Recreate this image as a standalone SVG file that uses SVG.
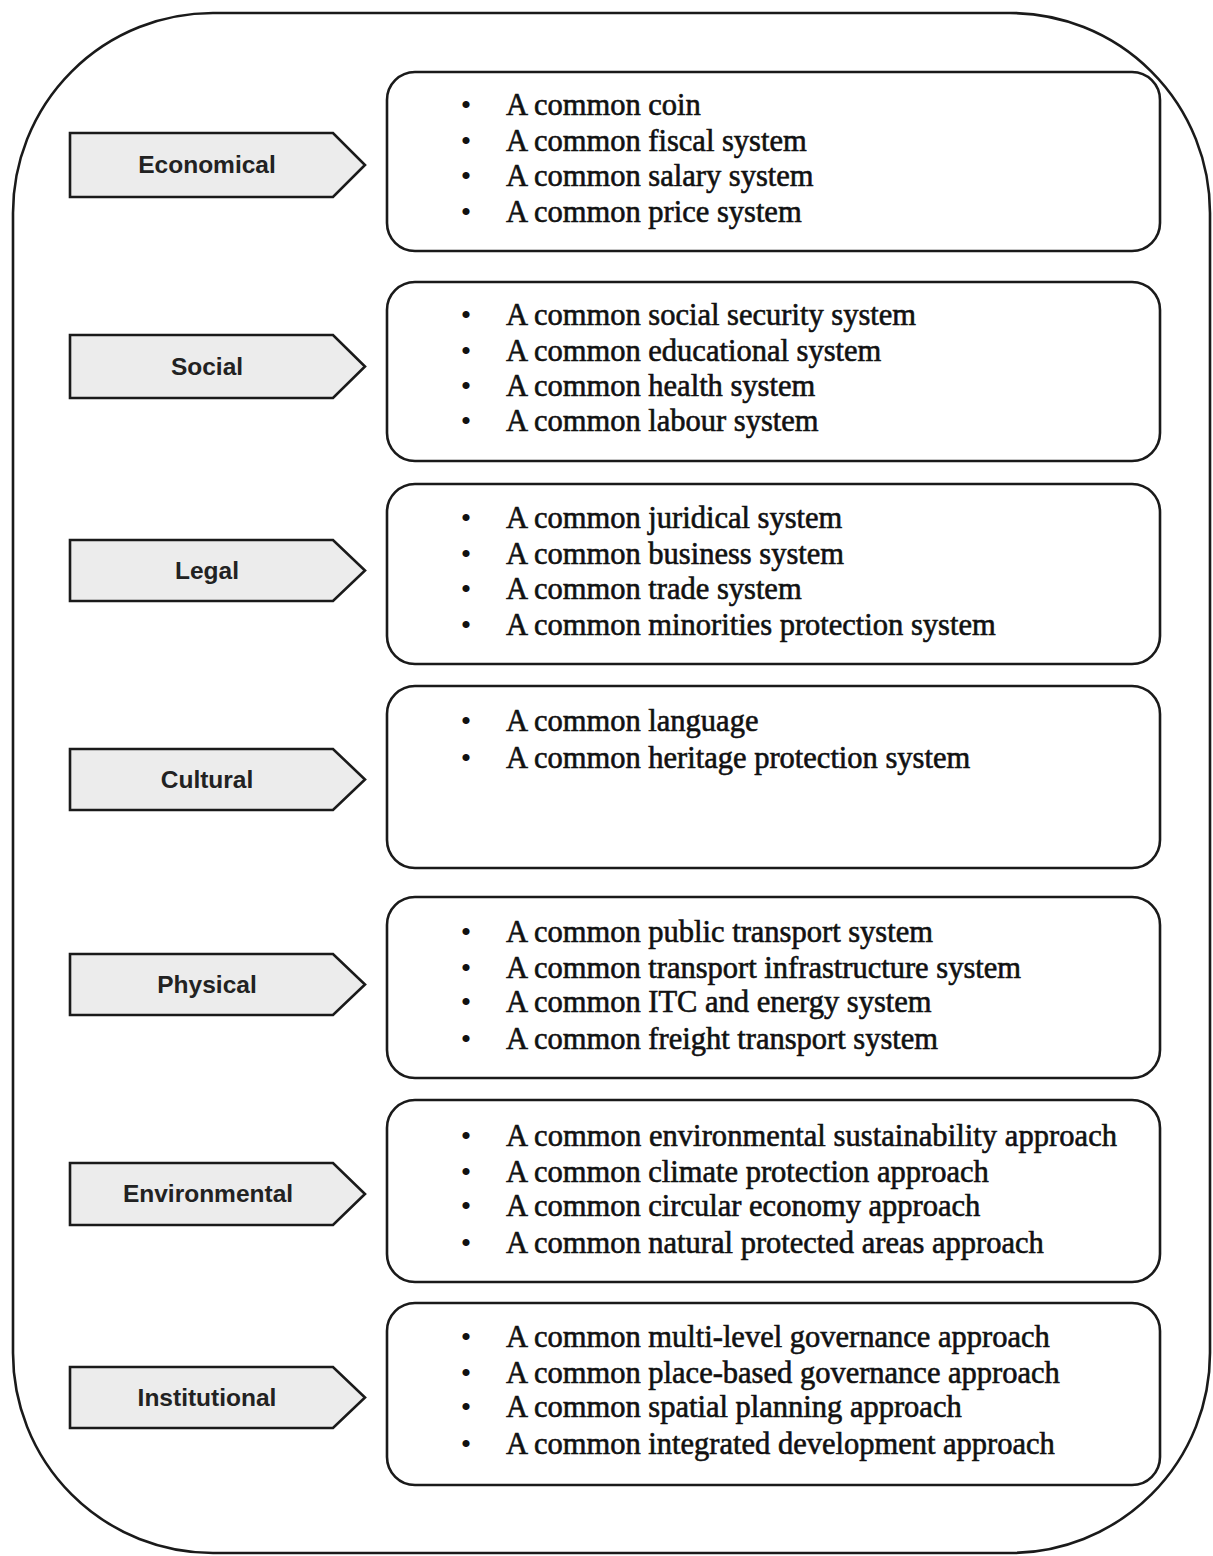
<svg xmlns="http://www.w3.org/2000/svg" width="1213" height="1556" viewBox="0 0 1213 1556">
<style>
.outer{fill:#ffffff;stroke:#1a1a1a;stroke-width:2.6}
.arrow{fill:#ececec;stroke:#1a1a1a;stroke-width:2.6;stroke-linejoin:miter}
.lbl{font-family:"Liberation Sans",Arial,sans-serif;font-weight:bold;font-size:24.5px;fill:#222;text-anchor:middle}
.box{fill:#ffffff;stroke:#1a1a1a;stroke-width:2.6}
.item{font-family:"Liberation Serif","Times New Roman",serif;font-size:30.5px;fill:#111;stroke:#111;stroke-width:0.6}
.bul{font-family:"Liberation Serif","Times New Roman",serif;font-size:30px;fill:#111;text-anchor:middle}
</style>
<rect width="1213" height="1556" fill="#ffffff"/>
<rect class="outer" x="13" y="13" width="1197" height="1540" rx="200" ry="200"/>
<g id="connectors"></g>

<g id="economical">
<path class="arrow" d="M70,133 H333 L365,165 L333,197 H70 Z"/>
<text class="lbl" x="207" y="173">Economical</text>
<rect class="box" x="387" y="72" width="773" height="179" rx="28"/>
<text class="bul" x="466" y="115">•</text><text class="item" x="506" y="115">A common coin</text>
<text class="bul" x="466" y="151">•</text><text class="item" x="506" y="151">A common fiscal system</text>
<text class="bul" x="466" y="186">•</text><text class="item" x="506" y="186">A common salary system</text>
<text class="bul" x="466" y="222">•</text><text class="item" x="506" y="222">A common price system</text>
</g>

<g id="social">
<path class="arrow" d="M70,335 H333 L365,366.5 L333,398 H70 Z"/>
<text class="lbl" x="207" y="375">Social</text>
<rect class="box" x="387" y="282" width="773" height="179" rx="28"/>
<text class="bul" x="466" y="325">•</text><text class="item" x="506" y="325">A common social security system</text>
<text class="bul" x="466" y="361">•</text><text class="item" x="506" y="361">A common educational system</text>
<text class="bul" x="466" y="396">•</text><text class="item" x="506" y="396">A common health system</text>
<text class="bul" x="466" y="431">•</text><text class="item" x="506" y="431">A common labour system</text>
</g>

<g id="legal">
<path class="arrow" d="M70,540 H333 L365,570.5 L333,601 H70 Z"/>
<text class="lbl" x="207" y="579">Legal</text>
<rect class="box" x="387" y="484" width="773" height="180" rx="28"/>
<text class="bul" x="466" y="528">•</text><text class="item" x="506" y="528">A common juridical system</text>
<text class="bul" x="466" y="564">•</text><text class="item" x="506" y="564">A common business system</text>
<text class="bul" x="466" y="599">•</text><text class="item" x="506" y="599">A common trade system</text>
<text class="bul" x="466" y="635">•</text><text class="item" x="506" y="635">A common minorities protection system</text>
</g>

<g id="cultural">
<path class="arrow" d="M70,749 H333 L365,779.5 L333,810 H70 Z"/>
<text class="lbl" x="207" y="788">Cultural</text>
<rect class="box" x="387" y="686" width="773" height="182" rx="28"/>
<text class="bul" x="466" y="731">•</text><text class="item" x="506" y="731">A common language</text>
<text class="bul" x="466" y="768">•</text><text class="item" x="506" y="768">A common heritage protection system</text>
</g>

<g id="physical">
<path class="arrow" d="M70,954 H333 L365,984.5 L333,1015 H70 Z"/>
<text class="lbl" x="207" y="993">Physical</text>
<rect class="box" x="387" y="897" width="773" height="181" rx="28"/>
<text class="bul" x="466" y="942">•</text><text class="item" x="506" y="942">A common public transport system</text>
<text class="bul" x="466" y="978">•</text><text class="item" x="506" y="978">A common transport infrastructure system</text>
<text class="bul" x="466" y="1012">•</text><text class="item" x="506" y="1012">A common ITC and energy system</text>
<text class="bul" x="466" y="1049">•</text><text class="item" x="506" y="1049">A common freight transport system</text>
</g>

<g id="environmental">
<path class="arrow" d="M70,1163 H333 L365,1194 L333,1225 H70 Z"/>
<text class="lbl" x="208" y="1202">Environmental</text>
<rect class="box" x="387" y="1100" width="773" height="182" rx="28"/>
<text class="bul" x="466" y="1146">•</text><text class="item" x="506" y="1146" textLength="611" lengthAdjust="spacing">A common environmental sustainability approach</text>
<text class="bul" x="466" y="1182">•</text><text class="item" x="506" y="1182">A common climate protection approach</text>
<text class="bul" x="466" y="1216">•</text><text class="item" x="506" y="1216">A common circular economy approach</text>
<text class="bul" x="466" y="1253">•</text><text class="item" x="506" y="1253">A common natural protected areas approach</text>
</g>

<g id="institutional">
<path class="arrow" d="M70,1367 H333 L365,1397.5 L333,1428 H70 Z"/>
<text class="lbl" x="207" y="1406">Institutional</text>
<rect class="box" x="387" y="1303" width="773" height="182" rx="28"/>
<text class="bul" x="466" y="1347">•</text><text class="item" x="506" y="1347">A common multi-level governance approach</text>
<text class="bul" x="466" y="1383">•</text><text class="item" x="506" y="1383">A common place-based governance approach</text>
<text class="bul" x="466" y="1417">•</text><text class="item" x="506" y="1417">A common spatial planning approach</text>
<text class="bul" x="466" y="1454">•</text><text class="item" x="506" y="1454">A common integrated development approach</text>
</g>
</svg>
